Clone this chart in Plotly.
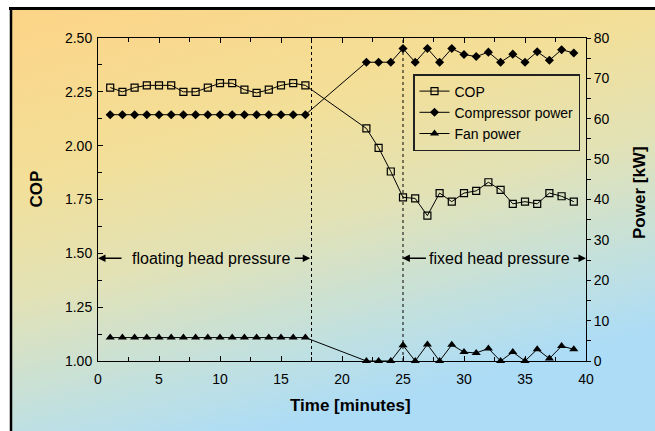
import base64
import plotly.graph_objects as go

# ---------------- data ----------------
time_min = [1, 2, 3, 4, 5, 6, 7, 8, 9, 10, 11, 12, 13, 14, 15, 16, 17,
            22, 23, 24, 25, 26, 27, 28, 29, 30, 31, 32, 33, 34, 35, 36, 37, 38, 39]
cop = [2.27, 2.25, 2.27, 2.28, 2.28, 2.28, 2.25, 2.25, 2.27, 2.29, 2.29, 2.26, 2.245, 2.26, 2.28, 2.29, 2.28,
       2.08, 1.99, 1.88, 1.76, 1.755, 1.675, 1.78, 1.74, 1.78, 1.79, 1.83, 1.795, 1.73, 1.74, 1.73, 1.78, 1.765, 1.74]
compressor_kw = [61, 61, 61, 61, 61, 61, 61, 61, 61, 61, 61, 61, 61, 61, 61, 61, 61,
                 74, 74, 74, 77.4, 74, 77.4, 74, 77.4, 75.9, 75.4, 76.5, 74, 76, 74, 76.6, 74.5, 77.1, 76.3]
fan_kw = [5.8, 5.8, 5.8, 5.8, 5.8, 5.8, 5.8, 5.8, 5.8, 5.8, 5.8, 5.8, 5.8, 5.8, 5.8, 5.8, 5.8,
          0, 0, 0, 3.9, 0, 4.1, 0, 4.0, 2.2, 2.0, 3.1, 0, 2.2, 0, 2.9, 0.6, 3.7, 2.9]
x_ticks = [0, 5, 10, 15, 20, 25, 30, 35, 40]
cop_ticks = [1.00, 1.25, 1.50, 1.75, 2.00, 2.25, 2.50]
power_ticks = [0, 10, 20, 30, 40, 50, 60, 70, 80]
mode_switch = [17.5, 25]

# ---------------- layout geometry ----------------
W, H = 655, 431
L, R, T, B = 98, 69, 38, 70
PW, PH = W - L - R, H - T - B

FONT = "Liberation Sans, Arial, Helvetica, sans-serif"

svg = f'''<svg xmlns="http://www.w3.org/2000/svg" width="{W}" height="{H}" viewBox="0 0 {W} {H}">
<defs><linearGradient id="g" x1="0" y1="0" x2="0.4" y2="1">
<stop offset="0" stop-color="#FCD487"/>
<stop offset="0.35" stop-color="#F3DF98"/>
<stop offset="0.6" stop-color="#E2E2B6"/>
<stop offset="0.86" stop-color="#BFE0E2"/>
<stop offset="1" stop-color="#ADDCF6"/>
</linearGradient></defs>
<rect width="{W}" height="{H}" fill="white"/>
<rect x="11" y="9" width="{W-11}" height="{H-9}" fill="url(#g)"/>
<line x1="9" y1="8.5" x2="{W}" y2="8.5" stroke="black" stroke-width="3"/>
<line x1="11" y1="7" x2="11" y2="{H}" stroke="black" stroke-width="2.5"/>
</svg>'''
src = "data:image/svg+xml;base64," + base64.b64encode(svg.encode()).decode()

fig = go.Figure()
fig.add_trace(go.Scatter(x=time_min, y=cop, name="COP", mode="lines+markers",
                         line=dict(color="black", width=1),
                         marker=dict(symbol="square-open", size=7, color="black", line=dict(width=1.2)),
                         cliponaxis=False))
fig.add_trace(go.Scatter(x=time_min, y=compressor_kw, name="Compressor power", mode="lines+markers",
                         yaxis="y2", line=dict(color="black", width=1),
                         marker=dict(symbol="diamond", size=7, color="black"),
                         cliponaxis=False))
fig.add_trace(go.Scatter(x=time_min, y=fan_kw, name="Fan power", mode="lines+markers",
                         yaxis="y2", line=dict(color="black", width=1),
                         marker=dict(symbol="triangle-up", size=8, color="black"),
                         cliponaxis=False))

for xv in mode_switch:
    fig.add_shape(type="line", x0=xv, x1=xv, y0=0, y1=1, xref="x", yref="paper",
                  line=dict(color="black", width=1, dash="dot"))

ya = 1.477
arrows = [(2.05, 0), (16.0, 17.4), (27.0, 24.95), (38.85, 40)]
for tail, head in arrows:
    fig.add_annotation(x=head, y=ya, ax=tail, ay=ya, xref="x", yref="y", axref="x", ayref="y",
                       text="", showarrow=True, arrowhead=2, arrowsize=1, arrowwidth=1.5,
                       arrowcolor="black")
fig.add_annotation(x=9.25, y=ya, xref="x", yref="y", text="floating head pressure", showarrow=False,
                   xanchor="center", yanchor="middle",
                   font=dict(family=FONT, size=16, color="black"))
fig.add_annotation(x=32.95, y=ya, xref="x", yref="y", text="fixed head pressure", showarrow=False,
                   xanchor="center", yanchor="middle",
                   font=dict(family=FONT, size=16, color="black"))

# axis titles
fig.add_annotation(x=(35.5 - L) / PW, y=(H - B - 189) / PH, xref="paper", yref="paper", text="<b>COP</b>",
                   textangle=-90, showarrow=False, xanchor="center", yanchor="middle",
                   font=dict(family=FONT, size=17, color="black"))
fig.add_annotation(x=(639 - L) / PW, y=(H - B - 193) / PH, xref="paper", yref="paper", text="<b>Power [kW]</b>",
                   textangle=-90, showarrow=False, xanchor="center", yanchor="middle",
                   font=dict(family=FONT, size=17, color="black"))
fig.add_annotation(x=(350 - L) / PW, y=(H - B - 405) / PH, xref="paper", yref="paper", text="<b>Time [minutes]</b>",
                   showarrow=False, xanchor="center", yanchor="middle",
                   font=dict(family=FONT, size=17, color="black"))

fig.update_layout(
    width=W, height=H, autosize=False,
    margin=dict(l=L, r=R, t=T, b=B, pad=0),
    paper_bgcolor="white", plot_bgcolor="rgba(0,0,0,0)",
    font=dict(family=FONT, size=14, color="black"),
    images=[dict(source=src, xref="paper", yref="paper", x=-L / PW, y=(H - B) / PH,
                 sizex=W / PW, sizey=H / PH, xanchor="left", yanchor="top",
                 sizing="stretch", layer="below")],
    xaxis=dict(range=[0, 40], tickvals=x_ticks, ticks="inside", ticklen=5, tickcolor="black",
               showline=True, linecolor="black", linewidth=1, mirror="ticks", showgrid=False,
               zeroline=False, ticklabelstandoff=5,
               minor=dict(dtick=2.5, ticks="inside", ticklen=4, tickcolor="black")),
    yaxis=dict(range=[1, 2.5], tickvals=cop_ticks, tickformat=".2f", ticks="inside", ticklen=5,
               tickcolor="black", showline=True, linecolor="black", linewidth=1, showgrid=False,
               zeroline=False, ticklabelstandoff=2,
               minor=dict(dtick=0.125, ticks="inside", ticklen=4, tickcolor="black")),
    yaxis2=dict(range=[0, 80], tickvals=power_ticks, overlaying="y", side="right", anchor="x",
                ticks="outside", ticklen=4, tickcolor="black", showline=True, linecolor="black",
                linewidth=1, showgrid=False, zeroline=False, ticklabelstandoff=0,
                minor=dict(dtick=5, ticks="outside", ticklen=4, tickcolor="black")),
    legend=dict(x=(413 - L) / PW, y=(H - B - 74) / PH, xanchor="left", yanchor="top",
                bgcolor="rgba(0,0,0,0)", bordercolor="#222", borderwidth=1.5,
                font=dict(family=FONT, size=14, color="black"), itemwidth=30,
                tracegroupgap=0),
    showlegend=True,
)

fig.write_html("out.html")
